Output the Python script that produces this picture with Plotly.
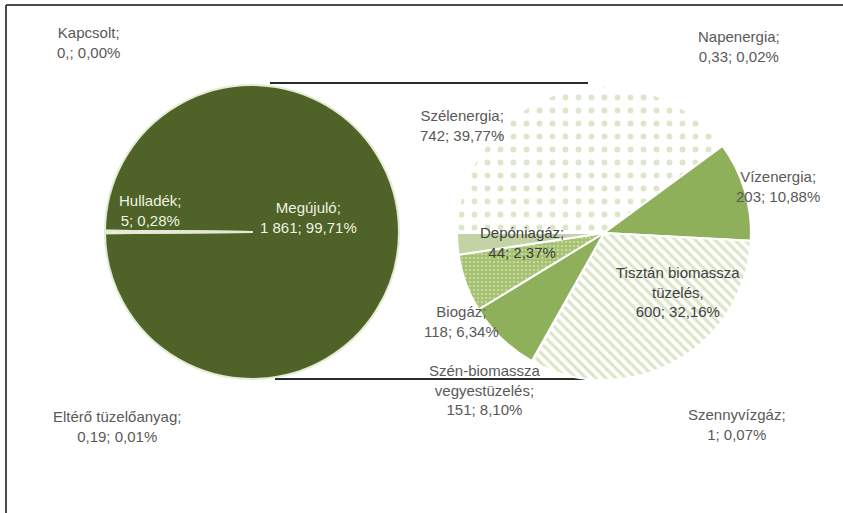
import plotly.graph_objects as go

W, H = 843, 513

# Bal kör: villamosenergia-termelés tüzelőanyag szerint
main_labels = ["Megújuló", "Hulladék", "Kapcsolt", "Eltérő tüzelőanyag"]
main_values = [1861, 5, 0, 0.19]
main_pct = [99.71, 0.28, 0.00, 0.01]
main_caption = ["Megújuló;", "Hulladék;", "Kapcsolt;", "Eltérő tüzelőanyag;"]

# Jobb kör: a megújuló rész megoszlása
ren_labels = ["Szélenergia", "Napenergia", "Vízenergia", "Tisztán biomassza tüzelés",
              "Szennyvízgáz", "Szén-biomassza vegyestüzelés", "Biogáz", "Depóniagáz"]
ren_values = [742, 0.33, 203, 600, 1, 151, 118, 44]
ren_pct = [39.77, 0.02, 10.88, 32.16, 0.07, 8.10, 6.34, 2.37]
ren_caption = ["Szélenergia;", "Napenergia;", "Vízenergia;", "Tisztán biomassza<br>tüzelés,",
               "Szennyvízgáz;", "Szén-biomassza<br>vegyestüzelés;", "Biogáz;", "Depóniagáz;"]


def hu_num(v):
    if v == 0:
        return "0,"
    if float(v).is_integer():
        return f"{int(v):,}".replace(",", " ")
    return f"{v:.2f}".rstrip("0").replace(".", ",")


def hu_pct(p):
    return f"{p:.2f}".replace(".", ",") + "%"


def px_x(x):
    return x / W


def px_y(y):
    return 1 - y / H


def domain(cx, cy, r):
    return dict(x=[px_x(cx - r), px_x(cx + r)], y=[px_y(cy + r), px_y(cy - r)])


# layout (pixel centres of the two pies)
L_CX, L_CY, R_CX, R_CY, RAD = 252, 232, 604, 233, 147

main_share = main_values[0] / sum(main_values)

fig = go.Figure()

fig.add_trace(go.Pie(
    values=main_values, labels=main_labels, sort=False, direction="clockwise",
    rotation=90 - 180 * main_share,
    marker=dict(colors=["#4f6228", "#ffffff", "#ffffff", "#ffffff"],
                line=dict(color="#e4ebd2", width=2)),
    textinfo="none", hoverinfo="skip", showlegend=False,
    domain=domain(L_CX, L_CY, RAD),
))

fig.add_trace(go.Pie(
    values=ren_values, labels=ren_labels, sort=False, direction="clockwise",
    rotation=-90,
    marker=dict(
        colors=["#ffffff", "#c9d9a9", "#8fb05a", "#ffffff",
                "#c9d9a9", "#8fb05a", "#a3c06c", "#c3d3a6"],
        line=dict(color="#ffffff", width=2),
        pattern=dict(
            shape=[".", "", "", "\\", "", "", ".", ""],
            fgcolor=["#b9cf95", "#c9d9a9", "#8fb05a", "#b5cc8e",
                     "#c9d9a9", "#8fb05a", "#e3ecd0", "#c3d3a6"],
            size=[13, 8, 8, 7, 8, 8, 4, 8],
            solidity=[0.16, 0.3, 0.3, 0.45, 0.3, 0.3, 0.35, 0.3],
            fillmode="overlay",
        ),
    ),
    textinfo="none", hoverinfo="skip", showlegend=False,
    domain=domain(R_CX, R_CY, RAD),
))

# label positions (pixel centres)
main_pos = [(308, 217), (150, 210), (88, 42), (117, 426)]
main_col = ["#eef2e2", "#eef2e2", "#595959", "#595959"]
ren_pos = [(462, 125), (739, 47), (778, 186), (678, 292),
           (737, 424), (485, 390), (461, 321), (522, 243)]
ren_col = ["#595959", "#595959", "#595959", "#404040",
           "#595959", "#595959", "#595959", "#404040"]

annotations = []
for cap, v, p, (x, y), c in zip(main_caption, main_values, main_pct, main_pos, main_col):
    annotations.append(dict(text=f"{cap}<br>{hu_num(v)}; {hu_pct(p)}",
                            x=px_x(x), y=px_y(y), xref="paper", yref="paper",
                            xanchor="center", yanchor="middle", showarrow=False,
                            font=dict(color=c)))
for cap, v, p, (x, y), c in zip(ren_caption, ren_values, ren_pct, ren_pos, ren_col):
    annotations.append(dict(text=f"{cap}<br>{hu_num(v)}; {hu_pct(p)}",
                            x=px_x(x), y=px_y(y), xref="paper", yref="paper",
                            xanchor="center", yanchor="middle", showarrow=False,
                            font=dict(color=c)))

shapes = [
    # chart frame (top and left edges)
    dict(type="line", xref="paper", yref="paper", x0=px_x(6), x1=1, y0=px_y(5), y1=px_y(5),
         line=dict(color="#4a4a4a", width=2)),
    dict(type="line", xref="paper", yref="paper", x0=px_x(6), x1=px_x(6), y0=px_y(5), y1=0,
         line=dict(color="#4a4a4a", width=2)),
    # series lines joining the two pies
    dict(type="line", xref="paper", yref="paper", x0=px_x(270), x1=px_x(588),
         y0=px_y(83), y1=px_y(83), line=dict(color="#2a2a2a", width=2), layer="below"),
    dict(type="line", xref="paper", yref="paper", x0=px_x(275), x1=px_x(585),
         y0=px_y(379), y1=px_y(379), line=dict(color="#2a2a2a", width=2), layer="below"),
]

fig.update_layout(
    width=W, height=H, autosize=False,
    margin=dict(l=0, r=0, t=0, b=0),
    paper_bgcolor="#ffffff", plot_bgcolor="#ffffff",
    font=dict(family="Liberation Sans, Arial, sans-serif", size=15, color="#595959"),
    annotations=annotations, shapes=shapes,
)

fig.write_html("out.html", config={"displayModeBar": False})
